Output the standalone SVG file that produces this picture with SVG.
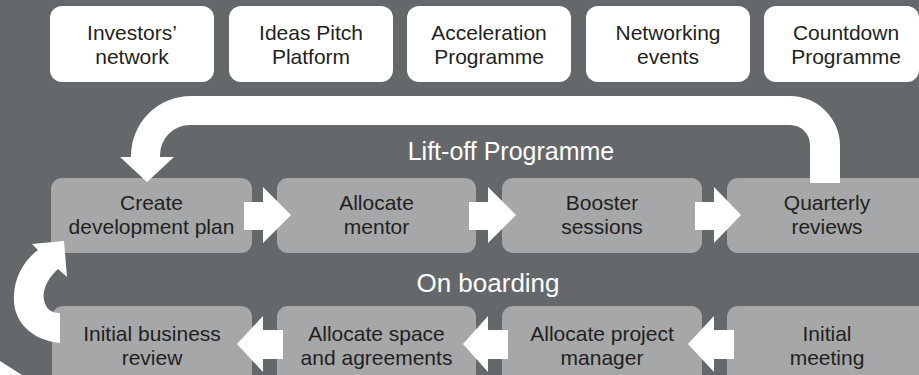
<svg xmlns="http://www.w3.org/2000/svg" width="919" height="375" viewBox="0 0 919 375">
<style>
.top{fill:#ffffff}
.box{fill:#a6a7a9}
.t{font-family:"Liberation Sans",Arial,sans-serif;font-size:21px;fill:#231f20;text-anchor:middle}
.h{font-family:"Liberation Sans",Arial,sans-serif;font-size:25px;fill:#ffffff;text-anchor:middle}
.arr{fill:#ffffff}
</style>
<rect x="0" y="0" width="919" height="375" fill="#65686b"/>
<polygon points="0,361 0,375 22,375" fill="#ffffff"/>
<g id="investors"><rect class="top" x="50" y="6" width="164" height="76" rx="12"/><text class="t" x="132" y="40">Investors’</text><text class="t" x="132" y="64">network</text></g>
<g id="ideas"><rect class="top" x="229" y="6" width="164" height="76" rx="12"/><text class="t" x="311" y="40">Ideas Pitch</text><text class="t" x="311" y="64">Platform</text></g>
<g id="acceleration"><rect class="top" x="407" y="6" width="164" height="76" rx="12"/><text class="t" x="489" y="40">Acceleration</text><text class="t" x="489" y="64">Programme</text></g>
<g id="networking"><rect class="top" x="586" y="6" width="164" height="76" rx="12"/><text class="t" x="668" y="40">Networking</text><text class="t" x="668" y="64">events</text></g>
<g id="countdown"><rect class="top" x="764" y="6" width="155" height="76" rx="12"/><text class="t" x="846" y="40">Countdown</text><text class="t" x="846" y="64">Programme</text></g>
<g id="liftoff-title"><text class="h" x="511" y="160">Lift-off Programme</text></g>
<g id="onboarding-title"><text class="h" x="488" y="292" style="font-size:26px">On boarding</text></g>
<g id="create"><rect class="box" x="51" y="178" width="201" height="75" rx="11"/><text class="t" x="151.5" y="210">Create</text><text class="t" x="151.5" y="234">development plan</text></g>
<g id="mentor"><rect class="box" x="277" y="178" width="199" height="75" rx="11"/><text class="t" x="376.5" y="210">Allocate</text><text class="t" x="376.5" y="234">mentor</text></g>
<g id="booster"><rect class="box" x="502" y="178" width="200" height="75" rx="11"/><text class="t" x="602" y="210">Booster</text><text class="t" x="602" y="234">sessions</text></g>
<g id="quarterly"><rect class="box" x="727" y="178" width="210" height="75" rx="11"/><text class="t" x="827" y="210">Quarterly</text><text class="t" x="827" y="234">reviews</text></g>
<g id="review"><rect class="box" x="52" y="306" width="200" height="80" rx="11"/><text class="t" x="152" y="341">Initial business</text><text class="t" x="152" y="365">review</text></g>
<g id="space"><rect class="box" x="277" y="306" width="199" height="80" rx="11"/><text class="t" x="376.5" y="341">Allocate space</text><text class="t" x="376.5" y="365">and agreements</text></g>
<g id="pm"><rect class="box" x="502" y="306" width="200" height="80" rx="11"/><text class="t" x="602" y="341">Allocate project</text><text class="t" x="602" y="365">manager</text></g>
<g id="meeting"><rect class="box" x="727" y="306" width="210" height="80" rx="11"/><text class="t" x="827" y="341">Initial</text><text class="t" x="827" y="365">meeting</text></g>
<g id="connectors">
<path class="arr" d="M244,202 H263 V187 L291,215 L263,243 V230 H244 Z"/>
<path class="arr" d="M469,202 H488 V187 L516,215 L488,243 V230 H469 Z"/>
<path class="arr" d="M695,202 H714 V187 L741,215 L714,243 V230 H695 Z"/>
<path class="arr" d="M283,330 H263 V316 L237,344 L263,372 V359 H283 Z"/>
<path class="arr" d="M508,330 H488 V316 L463,344 L488,372 V359 H508 Z"/>
<path class="arr" d="M734,330 H714 V316 L688,344 L714,372 V359 H734 Z"/>
<path class="arr" d="M840,183 V146 A50,50 0 0 0 790,96 H191 A60,60 0 0 0 131,156 V157 H120 L147,182 L174,157 H160 V155 A30,30 0 0 1 190,125 H790 A20,20 0 0 1 810,145 V183 Z"/>
<path class="arr" d="M60,343 C30,340 12,320 14,295 C15,275 25,260 38,250 L32,244 L64,241 L67,277 L58,269 C48,278 42,290 44,300 C46,310 52,313 60,313 Z"/>
</g>
</svg>
